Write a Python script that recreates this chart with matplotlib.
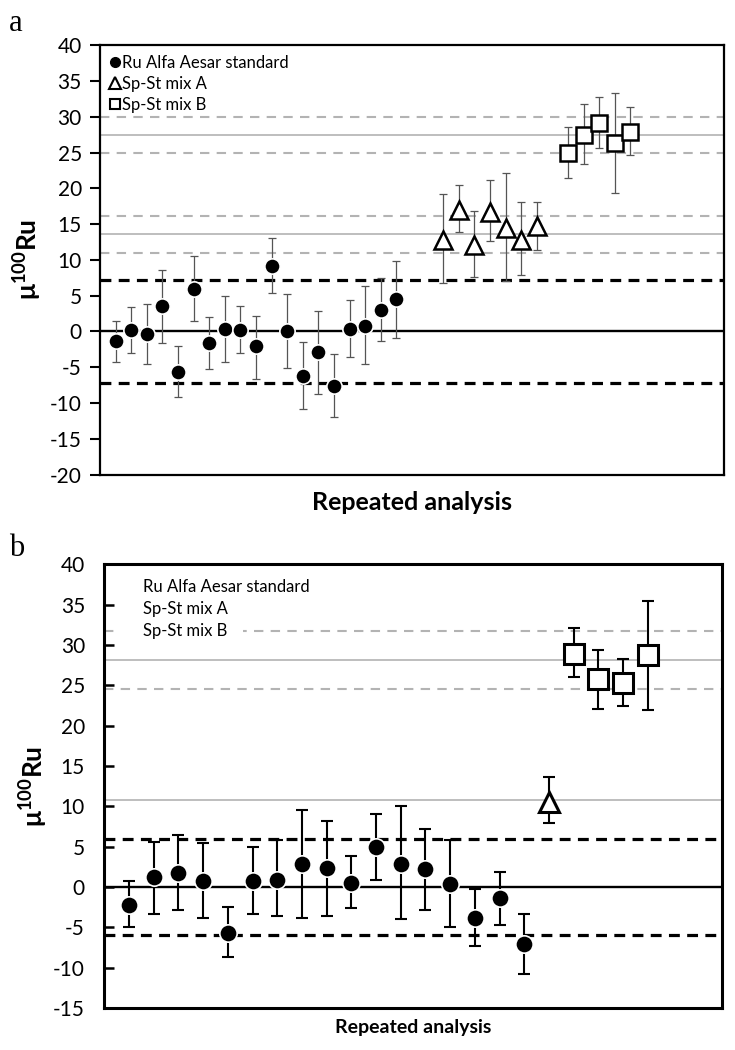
import matplotlib
matplotlib.use('Agg')
import matplotlib.pyplot as plt
from matplotlib.lines import Line2D
from matplotlib.patches import Rectangle
import matplotlib.transforms as mtransforms
import numpy as np

plt.rcParams['font.family'] = ['Lato', 'DejaVu Sans']
plt.rcParams['axes.unicode_minus'] = False
plt.rcParams['mathtext.fontset'] = 'custom'
plt.rcParams['mathtext.rm'] = 'Lato:bold'
plt.rcParams['mathtext.bf'] = 'Lato:bold'

# --- panel a data ---
a_std_x = list(range(1, 20))
a_std_y = [-1.4, 0.2, -0.3, 3.6, -5.6, 6.0, -1.6, 0.3, 0.2, -2.1, 9.2, 0.0, -6.2, -2.9, -7.6, 0.4, 0.8, 3.0, 4.5]
a_std_hi = [1.4, 3.4, 3.8, 8.6, -2.1, 10.6, 2.0, 4.9, 3.5, 2.1, 13.0, 5.3, -1.5, 2.8, -3.1, 4.4, 6.3, 7.4, 9.9]
a_std_lo = [-4.3, -3.0, -4.6, -1.6, -9.2, 1.5, -5.3, -4.3, -3.0, -6.7, 5.4, -5.1, -10.9, -8.7, -11.9, -3.5, -4.6, -1.3, -0.9]

a_mixA_x = list(range(22, 29))
a_mixA_y = [12.8, 17.0, 12.1, 16.7, 14.4, 12.8, 14.7]
a_mixA_hi = [19.2, 20.4, 16.8, 21.2, 22.2, 18.1, 18.1]
a_mixA_lo = [6.7, 13.9, 7.6, 12.7, 7.1, 7.9, 11.4]

a_mixB_x = list(range(30, 35))
a_mixB_y = [25.0, 27.4, 29.1, 26.3, 27.9]
a_mixB_hi = [28.6, 31.8, 32.7, 33.3, 31.3]
a_mixB_lo = [21.5, 23.4, 25.6, 19.4, 24.7]

a_mixB_mean, a_mixB_band = 27.5, [25.0, 30.0]
a_mixA_mean, a_mixA_band = 13.6, [11.0, 16.1]
a_std_band = [-7.2, 7.2]

# --- panel b data ---
b_std_x = list(range(1, 18))
b_std_y = [-2.2, 1.2, 1.7, 0.7, -5.7, 0.7, 0.9, 2.8, 2.3, 0.5, 5.0, 2.9, 2.2, 0.4, -3.8, -1.4, -7.1]
b_std_hi = [0.7, 5.6, 6.5, 5.5, -2.5, 4.9, 5.8, 9.5, 8.2, 3.9, 9.1, 10.0, 7.2, 5.8, -0.3, 1.9, -3.3]
b_std_lo = [-4.9, -3.3, -2.9, -3.8, -8.7, -3.3, -3.6, -3.8, -3.6, -2.6, 0.9, -4.0, -2.9, -5.0, -7.3, -4.7, -10.8]

b_mixA_x = [18]
b_mixA_y = [10.5]
b_mixA_hi = [13.6]
b_mixA_lo = [7.9]

b_mixB_x = [19, 20, 21, 22]
b_mixB_y = [28.9, 25.8, 25.3, 28.8]
b_mixB_hi = [32.1, 29.4, 28.3, 35.5]
b_mixB_lo = [26.0, 22.1, 22.5, 22.0]

b_mixB_mean, b_mixB_band = 28.1, [24.6, 31.8]
b_mixA_mean = 10.8
b_std_band = [-5.9, 5.9]

labels = ['Ru Alfa Aesar standard', 'Sp-St mix A', 'Sp-St mix B']
GREY = '#b3b3b3'
fig = plt.figure(figsize=(7.35, 10.5), dpi=100)


def errs(y, hi, lo):
    y = np.array(y); hi = np.array(hi); lo = np.array(lo)
    return [y - lo, hi - y]


def ref_lines(ax, mean_lines, band_lines, std_band):
    for m in mean_lines:
        ax.axhline(m, color=GREY, lw=1.2, zorder=1)
    for b in band_lines:
        ax.axhline(b, color=GREY, lw=1.5, dashes=(4.5, 3.5), zorder=1)
    for s in std_band:
        ax.axhline(s, color='black', lw=2.3, dashes=(3.4, 2.3), zorder=1)
    ax.axhline(0, color='black', lw=1.7, zorder=1)


# ---------------- panel a ----------------
ax = fig.add_axes([0.136, 0.548, 0.849, 0.409])
ref_lines(ax, [a_mixB_mean, a_mixA_mean], a_mixB_band + a_mixA_band, a_std_band)
ekw = dict(fmt='none', ecolor='#555555', elinewidth=0.9, capsize=3, capthick=0.9, zorder=2)
ax.errorbar(a_std_x, a_std_y, yerr=errs(a_std_y, a_std_hi, a_std_lo), **ekw)
ax.errorbar(a_mixA_x, a_mixA_y, yerr=errs(a_mixA_y, a_mixA_hi, a_mixA_lo), **ekw)
ax.errorbar(a_mixB_x, a_mixB_y, yerr=errs(a_mixB_y, a_mixB_hi, a_mixB_lo), **ekw)
ax.plot(a_std_x, a_std_y, 'o', ms=11, mfc='black', mec='white', mew=1.2, ls='none', zorder=3)
ax.plot(a_mixA_x, a_mixA_y, '^', ms=13.5, mfc='white', mec='black', mew=1.8, ls='none', zorder=3)
ax.plot(a_mixB_x, a_mixB_y, 's', ms=12, mfc='white', mec='black', mew=1.8, ls='none', zorder=3)
ax.set_xlim(0, 40)
ax.set_ylim(-20, 40)
ax.set_yticks(range(-20, 41, 5))
ax.set_xticks([])
ax.tick_params(axis='y', direction='out', length=7, width=1.5, labelsize=15, pad=6)
for sp in ax.spines.values():
    sp.set_linewidth(1.6)
ax.set_xlabel('Repeated analysis', fontsize=18, fontweight='bold', labelpad=12)
ax.set_ylabel(r'$\mathrm{μ^{100}Ru}$', fontsize=19, labelpad=4)
hA = [Line2D([], [], marker='o', color='black', ms=7, ls='none'),
      Line2D([], [], marker='^', mfc='white', mec='black', mew=1.5, ms=8, ls='none'),
      Line2D([], [], marker='s', mfc='white', mec='black', mew=1.5, ms=7, ls='none')]
ax.legend(hA, labels, loc='upper left',
          frameon=False, fontsize=12, handlelength=0.6, handletextpad=0.1,
          labelspacing=0.3, borderaxespad=0.2, bbox_to_anchor=(0.0, 1.0))
fig.text(0.012, 0.978, 'a', family=['Liberation Serif', 'DejaVu Serif'], fontsize=22, va='center')

# ---------------- panel b ----------------
ax = fig.add_axes([0.142, 0.04, 0.84, 0.4225])
ref_lines(ax, [b_mixB_mean, b_mixA_mean], b_mixB_band, b_std_band)
# white legend box hides part of the upper dashed line
trans = mtransforms.blended_transform_factory(ax.transAxes, ax.transData)
ax.add_patch(Rectangle((0.025, 30.3), 0.2, 3.0, transform=trans, facecolor='white',
                       edgecolor='none', zorder=1.5))
ekw = dict(fmt='none', ecolor='black', elinewidth=1.5, capsize=4, capthick=1.5, zorder=2)
ax.errorbar(b_std_x, b_std_y, yerr=errs(b_std_y, b_std_hi, b_std_lo), **ekw)
ax.errorbar(b_mixA_x, b_mixA_y, yerr=errs(b_mixA_y, b_mixA_hi, b_mixA_lo), **ekw)
ax.errorbar(b_mixB_x, b_mixB_y, yerr=errs(b_mixB_y, b_mixB_hi, b_mixB_lo), **ekw)
ax.plot(b_std_x, b_std_y, 'o', ms=12.5, mfc='black', mec='white', mew=1.2, ls='none', zorder=3)
ax.plot(b_mixA_x, b_mixA_y, '^', ms=14, mfc='white', mec='black', mew=2.2, ls='none', zorder=3)
ax.plot(b_mixB_x, b_mixB_y, 's', ms=14, mfc='white', mec='black', mew=2.2, ls='none', zorder=3)
ax.set_xlim(0, 25)
ax.set_ylim(-15, 40)
ax.set_yticks(range(-15, 41, 5))
ax.set_xticks([])
ax.tick_params(axis='y', direction='in', length=7, width=1.8, labelsize=15, pad=14)
for sp in ax.spines.values():
    sp.set_linewidth(2.2)
ax.set_xlabel('Repeated analysis', fontsize=14, fontweight='bold', labelpad=8)
ax.set_ylabel(r'$\mathrm{μ^{100}Ru}$', fontsize=19, labelpad=2)
for i, lab in enumerate(labels):
    ax.text(0.062, 0.95 - i * 0.05, lab, transform=ax.transAxes, fontsize=12,
            va='center', ha='left', zorder=4)
fig.text(0.012, 0.478, 'b', family=['Liberation Serif', 'DejaVu Serif'], fontsize=22, va='center')

fig.savefig('out.png', dpi=100)
